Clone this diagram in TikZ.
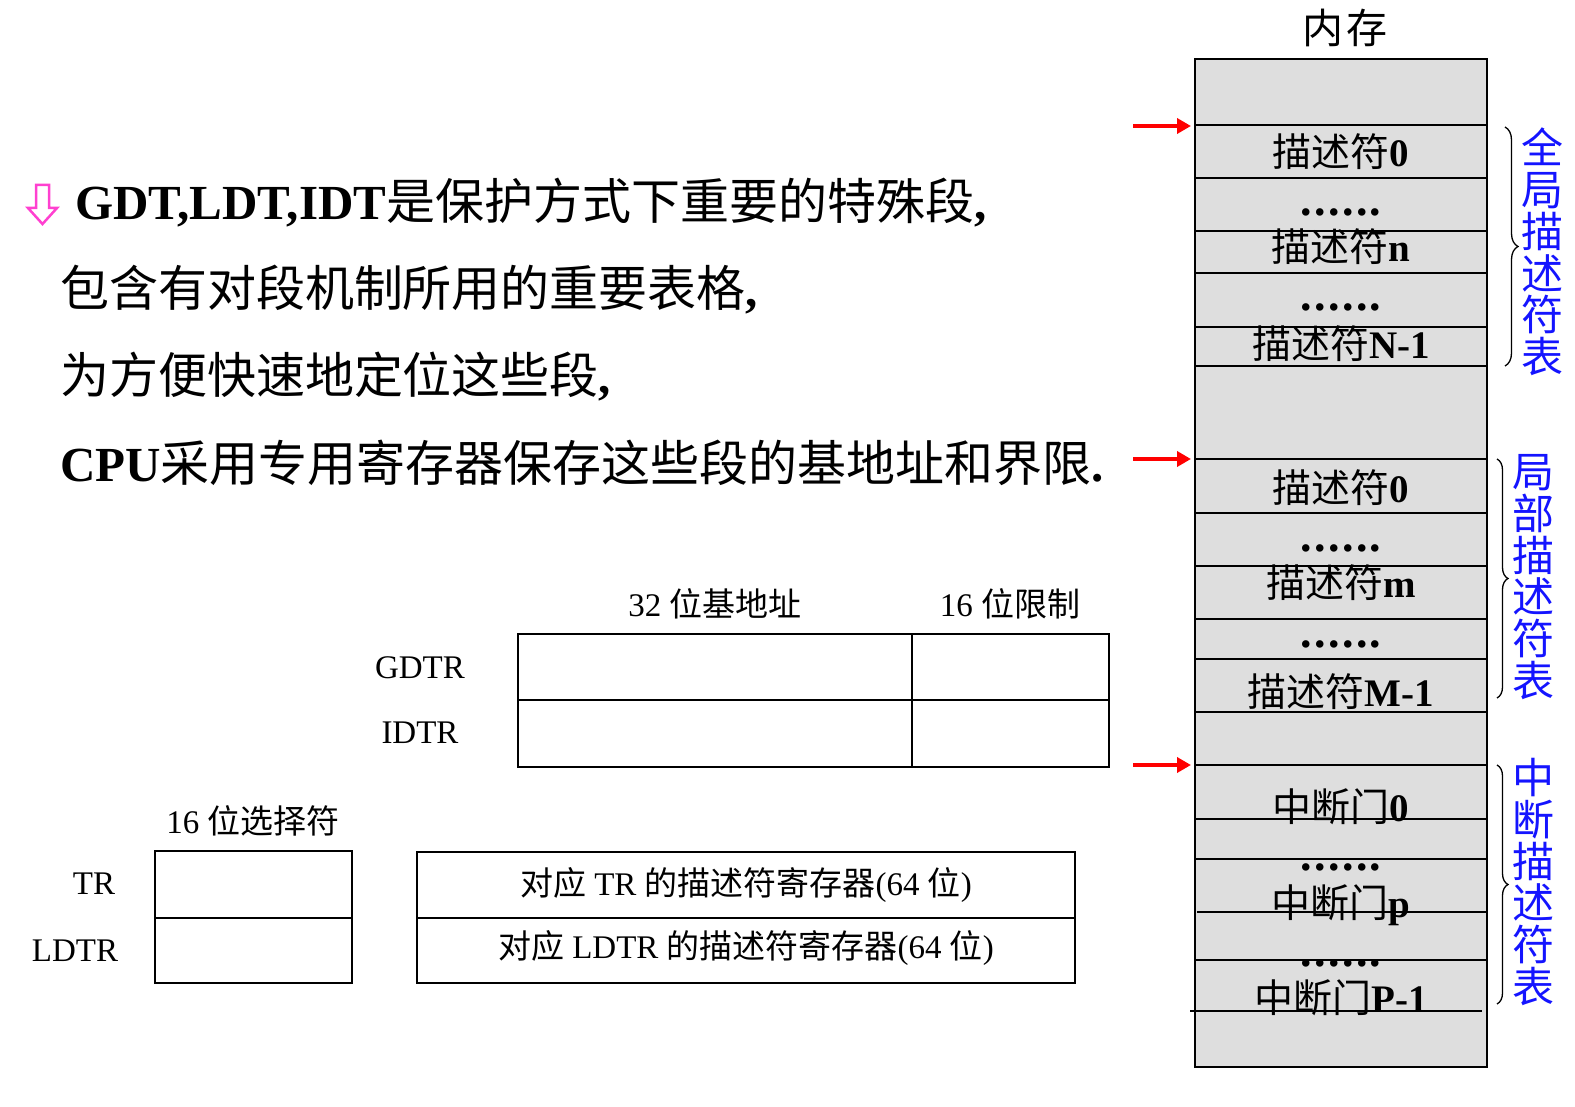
\documentclass[tikz,border=0pt]{standalone}
\usepackage{fontspec}
\setmainfont{Liberation Serif}
\newfontfamily\cjk{Noto Sans CJK SC}
\usetikzlibrary{decorations.pathreplacing,arrows.meta}
\newcommand\zhs[1]{{\cjk #1}}
\newcommand\fsz[1]{\fontsize{#1}{#1}\selectfont}
\newcommand\sixdots{.\kern2.4pt.\kern2.4pt.\kern2.4pt.\kern2.4pt.\kern2.4pt.}
\definecolor{memgray}{RGB}{222,222,222}
\definecolor{pinkarrow}{RGB}{255,64,208}
\definecolor{bluetext}{RGB}{20,20,255}
\begin{document}
\begin{tikzpicture}[x=1pt,y=-1pt,
  every node/.style={inner sep=0pt,outer sep=0pt},
  maintext/.style={font=\fsz{49},anchor=base west},
  memtext/.style={font=\fsz{39},anchor=base},
  memdots/.style={font=\fsz{46}\bfseries,anchor=base},
  memline/.style={line width=2pt},
  bluecol/.style={font=\fontsize{42}{41.7}\selectfont\cjk,text=bluetext,align=center},
  reglabel/.style={font=\fsz{33},anchor=center},
  regbox/.style={draw,line width=2.2pt},
  redarrow/.style={draw=red,line width=4pt,-{Triangle[length=14pt,width=15pt]}},
  membrace/.style={decorate,decoration={brace,amplitude=#1},line width=1.3pt},
]
\useasboundingbox (0,0) rectangle (1575,1107);

% pink hollow arrow
\draw[pinkarrow,line width=2.5pt,line join=miter,fill=white]
  (36,185) -- (49,185) -- (49,208) -- (57,208) -- (42.5,224) -- (28,208) -- (36,208) -- cycle;

% main text
\node[maintext] (l1) at (75,220) {\textbf{GDT,LDT,IDT}\zhs{是保护方式下重要的特殊段}\textbf{,}};
\node[maintext] (l2) at (60,307) {\zhs{包含有对段机制所用的重要表格}\textbf{,}};
\node[maintext] (l3) at (60,394) {\zhs{为方便快速地定位这些段}\textbf{,}};
\node[maintext] (l4) at (60,481) {\textbf{CPU}\zhs{采用专用寄存器保存这些段的基地址和界限}\textbf{.}};

% GDTR / IDTR
\node[reglabel] (h32) at (715,604) {32 \zhs{位基地址}};
\node[reglabel] (h16) at (1010,604) {16 \zhs{位限制}};
\draw[regbox] (518,634) rectangle (1109,767);
\draw[line width=2.2pt] (518,700) -- (1109,700);
\draw[line width=1.5pt] (912,634) -- (912,767);
\node[reglabel] (gdtr) at (420,668) {GDTR};
\node[reglabel] (idtr) at (420,733) {IDTR};

% TR / LDTR
\node[reglabel] (hsel) at (253,821) {16 \zhs{位选择符}};
\draw[regbox] (155,851) rectangle (352,983);
\draw[line width=2pt] (155,918) -- (352,918);
\node[reglabel] (tr) at (94,884) {TR};
\node[reglabel] (ldtr) at (75,951) {LDTR};
\draw[regbox] (417,852) rectangle (1075,983);
\draw[line width=2pt] (417,918) -- (1075,918);
\node[reglabel] (dtr) at (746,885) {\zhs{对应} TR \zhs{的描述符寄存器}(64 \zhs{位})};
\node[reglabel] (dldtr) at (746,948) {\zhs{对应} LDTR \zhs{的描述符寄存器}(64 \zhs{位})};

% memory
\node[font=\fsz{41}\cjk,anchor=base] (memtitle) at (1345,44) {内\hspace{4pt}存};
\draw[fill=memgray,line width=2.3pt] (1195,59) rectangle (1487,1067);
\foreach \yy in {125,178,231,273,327,366,459,513,566,619,659,712,765,819,859,960}
  \draw[memline] (1195,\yy) -- (1487,\yy);
\draw[memline] (1197,912) -- (1487,912);
\draw[memline] (1190,1011) -- (1482,1011);

\node[memtext] (g0) at (1341,167) {\zhs{描述符}\textbf{0}};
\node[memdots] (gd1) at (1341,216) {\sixdots};
\node[memtext] (gn) at (1341,262) {\zhs{描述符}\textbf{n}};
\node[memdots] (gd2) at (1341,311) {\sixdots};
\node[memtext] (gN) at (1341,359) {\zhs{描述符}\textbf{N-1}};

\node[memtext] (d0) at (1341,502) {\zhs{描述符}\textbf{0}};
\node[memdots] (ld1) at (1341,551) {\sixdots};
\node[memtext] (dm) at (1341,597) {\zhs{描述符}\textbf{m}};
\node[memdots] (ld2) at (1341,647) {\sixdots};
\node[memtext] (dM) at (1341,706) {\zhs{描述符}\textbf{M-1}};

\node[memtext] (i0) at (1341,821) {\zhs{中断门}\textbf{0}};
\node[memdots] (id1) at (1341,870) {\sixdots};
\node[memtext] (ip) at (1341,917) {\zhs{中断门}\textbf{p}};
\node[memdots] (id2) at (1341,966) {\sixdots};
\node[memtext] (iP) at (1341,1012) {\zhs{中断门}\textbf{P-1}};

% red arrows
\coordinate (ra1s) at (1133,126); \coordinate (ra1e) at (1191,126);
\coordinate (ra2s) at (1133,459); \coordinate (ra2e) at (1191,459);
\coordinate (ra3s) at (1133,765); \coordinate (ra3e) at (1191,765);
\draw[redarrow] (ra1s) -- (ra1e);
\draw[redarrow] (ra2s) -- (ra2e);
\draw[redarrow] (ra3s) -- (ra3e);

% braces
\coordinate (b1t) at (1505,127); \coordinate (b1b) at (1505,366);
\coordinate (b2t) at (1497,459); \coordinate (b2b) at (1497,698);
\coordinate (b3t) at (1497,765); \coordinate (b3b) at (1497,1004);
\draw[membrace=13pt] (b1t) -- (b1b);
\draw[membrace=11pt] (b2t) -- (b2b);
\draw[membrace=11pt] (b3t) -- (b3b);

\node[bluecol] (gdt) at (1542,252) {全\\局\\描\\述\\符\\表};
\node[bluecol] (ldt) at (1533,577) {局\\部\\描\\述\\符\\表};
\node[bluecol] (idt) at (1533,882) {中\\断\\描\\述\\符\\表};
\end{tikzpicture}
\end{document}
